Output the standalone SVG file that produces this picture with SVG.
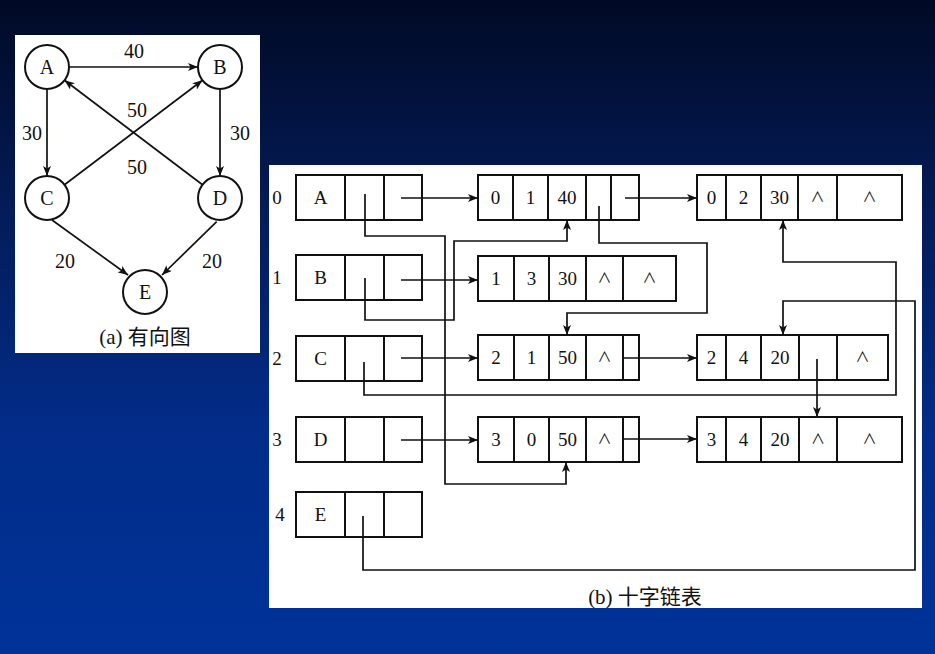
<svg xmlns="http://www.w3.org/2000/svg" width="935" height="654" viewBox="0 0 935 654">
<defs>
<linearGradient id="bg" x1="0" y1="0" x2="0" y2="1">
<stop offset="0" stop-color="#000a24"/>
<stop offset="0.3" stop-color="#041a55"/>
<stop offset="0.65" stop-color="#022c88"/>
<stop offset="1" stop-color="#003399"/>
</linearGradient>
<marker id="ah" viewBox="0 0 10 8" refX="10" refY="4" markerWidth="10" markerHeight="8" markerUnits="userSpaceOnUse" orient="auto">
<path d="M0,0 L10,4 L0,8 L2.5,4 z" fill="#111"/>
</marker>
</defs>
<style>
.t{font-family:"Liberation Serif","DejaVu Serif",serif;font-size:19px;fill:#111;text-anchor:middle}
.g{font-size:20px}
.w{font-family:"Noto Sans CJK SC","DejaVu Sans",sans-serif;font-size:14px;fill:#111;text-anchor:middle}
.c{font-family:"Liberation Serif","Noto Sans CJK SC",serif;font-size:21px;fill:#111;text-anchor:middle}
.n{fill:#fff;stroke:#111;stroke-width:2}
.d{stroke:#111;stroke-width:2}
.e{fill:none;stroke:#111;stroke-width:1.7;marker-end:url(#ah)}
.v{stroke:#111;stroke-width:2;fill:#fff}
</style>
<rect x="0" y="0" width="935" height="654" fill="url(#bg)"/>
<rect x="15" y="35" width="245" height="318" fill="#fff"/>
<rect x="269" y="165" width="653" height="443" fill="#fff"/>

<!-- (a) graph -->
<g id="graph-edges">
<path class="e" d="M69,67 H198"/>
<path class="e" d="M47,89 V176"/>
<path class="e" d="M220,89 V176"/>
<path class="e" d="M64.5,184.7 L202.5,80.3"/>
<path class="e" d="M202.5,184.7 L64.5,80.3"/>
<path class="e" d="M52,220 L128,275"/>
<path class="e" d="M216.7,221.7 L162,275"/>
<text class="t g" x="134" y="58">40</text>
<text class="t g" x="32" y="140">30</text>
<text class="t g" x="240" y="140">30</text>
<text class="t g" x="137" y="117">50</text>
<text class="t g" x="137" y="174">50</text>
<text class="t g" x="65" y="268">20</text>
<text class="t g" x="212" y="268">20</text>
</g>
<g id="vA"><circle class="v" cx="47" cy="67" r="22"/><text class="t g" x="47" y="74">A</text></g>
<g id="vB"><circle class="v" cx="220" cy="67" r="22"/><text class="t g" x="220" y="74">B</text></g>
<g id="vC"><circle class="v" cx="47" cy="198" r="22"/><text class="t g" x="47" y="205">C</text></g>
<g id="vD"><circle class="v" cx="220" cy="198" r="22"/><text class="t g" x="220" y="205">D</text></g>
<g id="vE"><circle class="v" cx="145" cy="292" r="22"/><text class="t g" x="145" y="299">E</text></g>
<text class="c" x="145" y="344">(a) 有向图</text>

<!-- (b) orthogonal list -->
<g class="t">
<text x="277" y="204">0</text>
<text x="277" y="284">1</text>
<text x="277" y="365">2</text>
<text x="277" y="446">3</text>
<text x="280" y="521">4</text>
</g>

<g id="h0"><rect class="n" x="296" y="175" width="126" height="45"/><line class="d" x1="345" y1="175" x2="345" y2="220"/><line class="d" x1="384" y1="175" x2="384" y2="220"/><text class="t" x="320.5" y="204">A</text></g>
<g id="h1"><rect class="n" x="296" y="255" width="126" height="45"/><line class="d" x1="345" y1="255" x2="345" y2="300"/><line class="d" x1="384" y1="255" x2="384" y2="300"/><text class="t" x="320.5" y="284">B</text></g>
<g id="h2"><rect class="n" x="296" y="336" width="126" height="45"/><line class="d" x1="345" y1="336" x2="345" y2="381"/><line class="d" x1="384" y1="336" x2="384" y2="381"/><text class="t" x="320.5" y="365">C</text></g>
<g id="h3"><rect class="n" x="296" y="417" width="126" height="45"/><line class="d" x1="345" y1="417" x2="345" y2="462"/><line class="d" x1="384" y1="417" x2="384" y2="462"/><text class="t" x="320.5" y="446">D</text></g>
<g id="h4"><rect class="n" x="296" y="492" width="126" height="45"/><line class="d" x1="345" y1="492" x2="345" y2="537"/><line class="d" x1="384" y1="492" x2="384" y2="537"/><text class="t" x="320.5" y="521">E</text></g>

<g id="e01"><rect class="n" x="478" y="175" width="161" height="45"/>
<line class="d" x1="513" y1="175" x2="513" y2="220"/><line class="d" x1="548" y1="175" x2="548" y2="220"/><line class="d" x1="586" y1="175" x2="586" y2="220"/><line class="d" x1="611" y1="175" x2="611" y2="220"/>
<text class="t" x="495.5" y="204">0</text><text class="t" x="530.5" y="204">1</text><text class="t" x="567" y="204">40</text></g>

<g id="e02"><rect class="n" x="697" y="175" width="205" height="45"/>
<line class="d" x1="726" y1="175" x2="726" y2="220"/><line class="d" x1="761" y1="175" x2="761" y2="220"/><line class="d" x1="798" y1="175" x2="798" y2="220"/><line class="d" x1="837" y1="175" x2="837" y2="220"/>
<text class="t" x="711.5" y="204">0</text><text class="t" x="743.5" y="204">2</text><text class="t" x="779.5" y="204">30</text><text class="w" x="817.5" y="202">∧</text><text class="w" x="869.5" y="202">∧</text></g>

<g id="e13"><rect class="n" x="478" y="256" width="198" height="45"/>
<line class="d" x1="514" y1="256" x2="514" y2="301"/><line class="d" x1="549" y1="256" x2="549" y2="301"/><line class="d" x1="586" y1="256" x2="586" y2="301"/><line class="d" x1="623" y1="256" x2="623" y2="301"/>
<text class="t" x="496" y="285">1</text><text class="t" x="531.5" y="285">3</text><text class="t" x="567.5" y="285">30</text><text class="w" x="604.5" y="283">∧</text><text class="w" x="649.5" y="283">∧</text></g>

<g id="e21"><rect class="n" x="478" y="335" width="161" height="45"/>
<line class="d" x1="514" y1="335" x2="514" y2="380"/><line class="d" x1="549" y1="335" x2="549" y2="380"/><line class="d" x1="586" y1="335" x2="586" y2="380"/><line class="d" x1="623" y1="335" x2="623" y2="380"/>
<text class="t" x="496" y="364">2</text><text class="t" x="531.5" y="364">1</text><text class="t" x="567.5" y="364">50</text><text class="w" x="604.5" y="362">∧</text></g>

<g id="e24"><rect class="n" x="697" y="335" width="191" height="45"/>
<line class="d" x1="726" y1="335" x2="726" y2="380"/><line class="d" x1="761" y1="335" x2="761" y2="380"/><line class="d" x1="799" y1="335" x2="799" y2="380"/><line class="d" x1="837" y1="335" x2="837" y2="380"/>
<text class="t" x="711.5" y="364">2</text><text class="t" x="743.5" y="364">4</text><text class="t" x="780" y="364">20</text><text class="w" x="862.5" y="362">∧</text></g>

<g id="e30"><rect class="n" x="478" y="417" width="161" height="45"/>
<line class="d" x1="514" y1="417" x2="514" y2="462"/><line class="d" x1="549" y1="417" x2="549" y2="462"/><line class="d" x1="586" y1="417" x2="586" y2="462"/><line class="d" x1="623" y1="417" x2="623" y2="462"/>
<text class="t" x="496" y="446">3</text><text class="t" x="531.5" y="446">0</text><text class="t" x="567.5" y="446">50</text><text class="w" x="604.5" y="444">∧</text></g>

<g id="e34"><rect class="n" x="697" y="417" width="205" height="45"/>
<line class="d" x1="726" y1="417" x2="726" y2="462"/><line class="d" x1="761" y1="417" x2="761" y2="462"/><line class="d" x1="799" y1="417" x2="799" y2="462"/><line class="d" x1="837" y1="417" x2="837" y2="462"/>
<text class="t" x="711.5" y="446">3</text><text class="t" x="743.5" y="446">4</text><text class="t" x="780" y="446">20</text><text class="w" x="818" y="444">∧</text><text class="w" x="869.5" y="444">∧</text></g>

<g id="connectors">
<path class="e" d="M401,198 H478"/>
<path class="e" d="M365,194 V236 H445 V484 H566 V462"/>
<path class="e" d="M599,206 V243 H707 V313 H567 V335"/>
<path class="e" d="M625,198 H697"/>
<path class="e" d="M365,278 V320 H454 V241 H567 V220"/>
<path class="e" d="M401,280 H478"/>
<path class="e" d="M401,358 H478"/>
<path class="e" d="M364,362 V395 H896 V262 H783 V220"/>
<path class="e" d="M623,358 H697"/>
<path class="e" d="M817,359 V417"/>
<path class="e" d="M401,440 H478"/>
<path class="e" d="M623,439 H697"/>
<path class="e" d="M363,516 V570 H915 V301 H783 V335"/>
</g>
<text class="c" x="645" y="604">(b) 十字链表</text>
</svg>
